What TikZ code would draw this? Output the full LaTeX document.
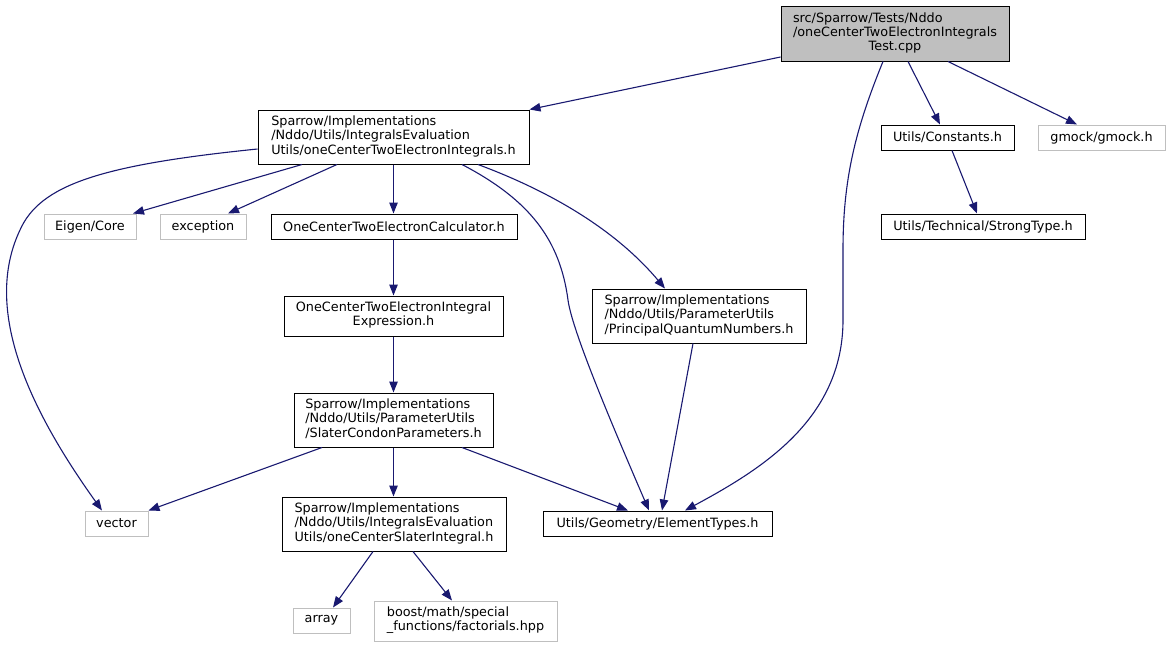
\documentclass[tikz,border=0pt]{standalone}
\usepackage{fontspec}
\setmainfont{DejaVu Sans}
\usetikzlibrary{arrows.meta}
\definecolor{edgecol}{HTML}{191970}
\definecolor{graybox}{HTML}{BFBFBF}
\newcommand{\ml}[1]{\begin{tabular}{@{}l@{}}#1\end{tabular}}
\begin{document}
\begin{tikzpicture}[x=1pt,y=-1pt,
  box/.style={draw=black, line width=1pt, inner sep=0pt, font=\fontsize{12.8}{14.2}\selectfont},
  extbox/.style={box, draw=graybox},
  rootbox/.style={box, fill=graybox},
  dep/.style={draw=edgecol, line width=1.1pt, -{Triangle[length=11pt,width=8.5pt]}}
]
\useasboundingbox (0,0) rectangle (1171,648);

\node[rootbox, minimum width=228pt, minimum height=55pt] (root) at (895,33.5)
  {\ml{src/Sparrow/Tests/Nddo\\/oneCenterTwoElectronIntegrals\\\multicolumn{1}{@{}c@{}}{Test.cpp}}};
\node[box, minimum width=271pt, minimum height=54pt] (A) at (393.5,137)
  {\ml{Sparrow/Implementations\\/Nddo/Utils/IntegralsEvaluation\\Utils/oneCenterTwoElectronIntegrals.h}};
\node[box, minimum width=133pt, minimum height=25pt] (con) at (947.5,137.5) {Utils/Constants.h};
\node[extbox, minimum width=127pt, minimum height=25pt] (gm) at (1101.5,137.5) {gmock/gmock.h};
\node[box, minimum width=204pt, minimum height=25pt] (st) at (983,226.5) {Utils/Technical/StrongType.h};
\node[extbox, minimum width=92pt, minimum height=25pt] (eig) at (90,226.5) {Eigen/Core};
\node[extbox, minimum width=86pt, minimum height=25pt] (exc) at (203,226.5) {exception};
\node[box, minimum width=246pt, minimum height=25pt] (calc) at (394,226.5) {OneCenterTwoElectronCalculator.h};
\node[box, minimum width=214pt, minimum height=54pt] (pr) at (699,316)
  {\ml{Sparrow/Implementations\\/Nddo/Utils/ParameterUtils\\/PrincipalQuantumNumbers.h}};
\node[box, minimum width=219pt, minimum height=40pt] (expr) at (393.5,316)
  {\ml{OneCenterTwoElectronIntegral\\\multicolumn{1}{@{}c@{}}{Expression.h}}};
\node[box, minimum width=199pt, minimum height=54pt] (sl) at (393.5,420)
  {\ml{Sparrow/Implementations\\/Nddo/Utils/ParameterUtils\\/SlaterCondonParameters.h}};
\node[extbox, minimum width=63pt, minimum height=25pt] (vec) at (116.5,523.5) {vector};
\node[box, minimum width=229pt, minimum height=25pt] (et) at (657.5,523.5) {Utils/Geometry/ElementTypes.h};
\node[box, minimum width=224pt, minimum height=54pt] (ocs) at (394,524)
  {\ml{Sparrow/Implementations\\/Nddo/Utils/IntegralsEvaluation\\Utils/oneCenterSlaterIntegral.h}};
\node[extbox, minimum width=57pt, minimum height=25pt] (arr) at (321.5,620.5) {array};
\node[extbox, minimum width=183pt, minimum height=40pt] (fac) at (465.5,621)
  {\ml{boost/math/special\\\_functions/factorials.hpp}};

% edges from root
\draw[dep] ([yshift=-23.5pt]root.west) -- (A.north east);
\draw[dep] ([xshift=-12pt]root.south) .. controls (855,130) and (843,180) .. (843,250)
  -- (843,320) .. controls (843,420) and (760,470) .. ([xshift=27.5pt]et.north);
\draw[dep] ([xshift=13pt]root.south) -- ([xshift=-7.5pt]con.north);
\draw[dep] ([xshift=53pt]root.south) -- ([xshift=-24.5pt]gm.north);
\draw[dep] ([xshift=4.5pt]con.south) -- ([xshift=-6pt]st.north);

% edges from A
\draw[dep] ([yshift=-12pt]A.west) .. controls (100,165) and (40,185) .. (20,230)
  .. controls (-18,310) and (30,410) .. ([xshift=-14.5pt]vec.north);
\draw[dep] ([xshift=-91.5pt]A.south) -- ([xshift=43pt]eig.north);
\draw[dep] ([xshift=-56.5pt]A.south) -- ([xshift=25pt]exc.north);
\draw[dep] (A.south) -- ([xshift=-0.5pt]calc.north);
\draw[dep] ([xshift=68.5pt]A.south) .. controls (530,200) and (560,240) .. (568,300)
  .. controls (572,330) and (610,420) .. ([xshift=-8.5pt]et.north);
\draw[dep] ([xshift=84.5pt]A.south) .. controls (560,195) and (620,235) .. ([xshift=-34pt]pr.north);

\draw[dep] ([xshift=-0.5pt]calc.south) -- (expr.north);
\draw[dep] (expr.south) -- (sl.north);
\draw[dep] ([xshift=-71.5pt]sl.south) -- (vec.north east);
\draw[dep] (sl.south) -- ([xshift=-0.5pt]ocs.north);
\draw[dep] ([xshift=68.5pt]sl.south) -- ([xshift=-29.5pt]et.north);
\draw[dep] ([xshift=-6pt]pr.south) -- ([xshift=4.5pt]et.north);
\draw[dep] ([xshift=-21pt]ocs.south) -- ([xshift=11.5pt]arr.north);
\draw[dep] ([xshift=19pt]ocs.south) -- ([xshift=-13.5pt]fac.north);
\end{tikzpicture}
\end{document}
